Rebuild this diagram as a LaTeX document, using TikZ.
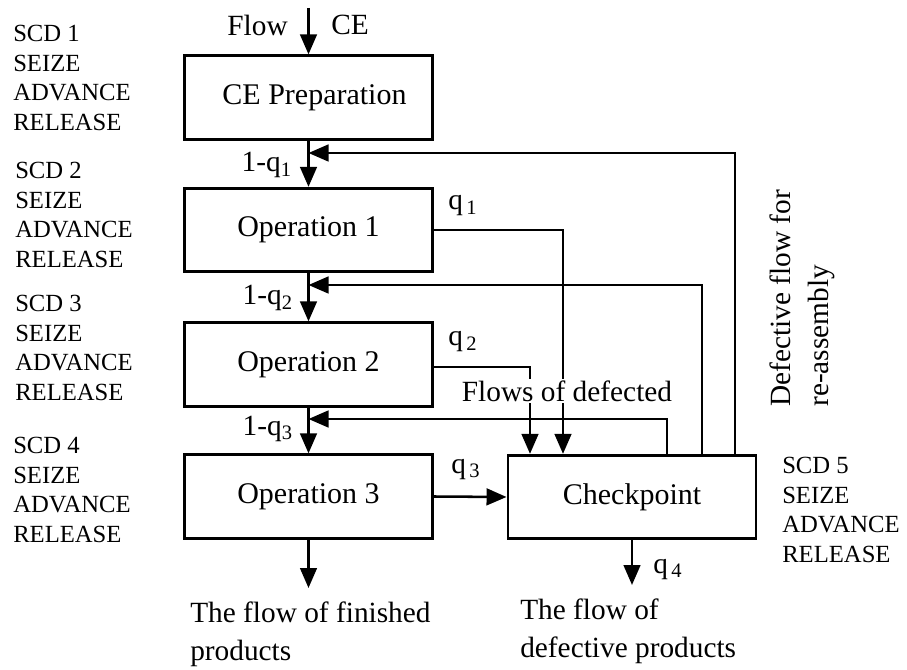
\documentclass[tikz,border=0pt]{standalone}
\usepackage{fontspec}
\setmainfont{Liberation Serif}
\usetikzlibrary{arrows.meta}
\begin{document}
\begin{tikzpicture}[x=0.75pt,y=-0.75pt,
  box/.style={draw, line width=2.2pt, minimum width=186pt, minimum height=62.5pt, inner sep=0pt, font=\fontsize{22.5}{27}\selectfont},
  conn/.style={line width=1.9pt},
  arr/.style={conn, -{Triangle[length=15pt,width=12.5pt]}},
  lab/.style={inner sep=0pt, font=\fontsize{22}{27}\selectfont},
  scd/.style={inner sep=0pt, align=left, anchor=north west, font=\fontsize{18.5}{22.2}\selectfont},
  q/.style={inner sep=0pt, anchor=base west, font=\fontsize{22}{27}\selectfont},
  oneq/.style={inner sep=0pt, anchor=base east, font=\fontsize{22}{27}\selectfont}
]
\useasboundingbox (0,0) rectangle (907,670);

% boxes
\node[box] (ce)  at (308.5,97.5) {\hspace*{9pt}CE Preparation};
\node[box] (op1) at (308.5,230)  {Operation 1};
\node[box] (op2) at (308.5,364.5){Operation 2};
\node[box] (op3) at (308.5,496.5){Operation 3};
\node[box] (chk) at (632,497)    {Checkpoint};

% coordinates
\coordinate (top) at (308.5,8);
\coordinate (fb1) at (308.5,153);
\coordinate (fb2) at (308.5,285);
\coordinate (fb3) at (308.5,419);
\coordinate (r1) at (735,0);
\coordinate (r2) at (702,0);
\coordinate (r3) at (667,0);
\coordinate (x1) at (563,0);
\coordinate (x2) at (530,0);
\coordinate (outf) at (308.5,588);
\coordinate (outd) at (632,585);

% main flow
\draw[arr] (top) -- (ce.north);
\draw[arr] (ce.south) -- (op1.north);
\draw[arr] (op1.south) -- (op2.north);
\draw[arr] (op2.south) -- (op3.north);
\draw[arr] (op3.south) -- (outf);
\draw[arr] (op3.east) -- (chk.west);
\draw[arr] (chk.south) -- (outd);

% feedback
\draw[arr] (chk.north -| r1) |- (fb1);
\draw[arr] (chk.north -| r2) |- (fb2);
\draw[arr] (chk.north -| r3) |- (fb3);

% defect flows
\draw[arr] (op1.east) -| (chk.north -| x1);
\draw[arr] (op2.east |- 0,367) -| (chk.north -| x2);

\node[lab, fill=white, inner sep=1pt] (fod) at (567,391) {Flows of defected};

% labels
\node[lab, anchor=east] (flow) at (288,25) {Flow};
\node[lab, anchor=west] (cein) at (331,25) {CE};
\node[oneq] (l1) at (292,172) {1-q\textsubscript{1}};
\node[oneq] (l2) at (293,305) {1-q\textsubscript{2}};
\node[oneq] (l3) at (293,435) {1-q\textsubscript{3}};
\node[q] (q1) at (448,210) {q\textsubscript{\,1}};
\node[q] (q2) at (448,346) {q\textsubscript{\,2}};
\node[q] (q3) at (451,473) {q\textsubscript{\,3}};
\node[q] (q4) at (653,573) {q\textsubscript{\,4}};

\node[lab, anchor=base west, align=left, font=\fontsize{22}{28}\selectfont] (fin) at (190,660) {The flow of finished\\products};
\node[lab, anchor=base west, align=left, font=\fontsize{22}{28}\selectfont] (def) at (520,657) {The flow of\\defective products};

\node[lab, rotate=90, anchor=base west] (dfa) at (790,407) {Defective flow for};
\node[lab, rotate=90, anchor=base west] (dfb) at (828,407) {re-assembly};

% SCD blocks
\node[scd] (s1) at (13,25)  {SCD 1\\SEIZE\\ADVANCE\\RELEASE};
\node[scd] (s2) at (15,162) {SCD 2\\SEIZE\\ADVANCE\\RELEASE};
\node[scd] (s3) at (15,295) {SCD 3\\SEIZE\\ADVANCE\\RELEASE};
\node[scd] (s4) at (13,437) {SCD 4\\SEIZE\\ADVANCE\\RELEASE};
\node[scd] (s5) at (782,457) {SCD 5\\SEIZE\\ADVANCE\\RELEASE};
\end{tikzpicture}
\end{document}
